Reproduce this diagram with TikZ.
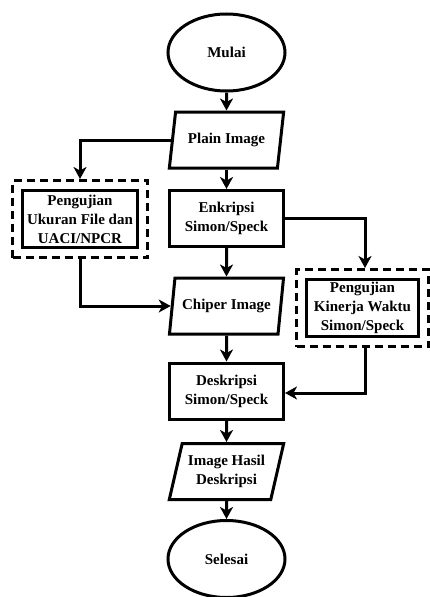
\documentclass[tikz,border=0pt]{standalone}
\usepackage{fontspec}
\setmainfont{Liberation Serif}
\usetikzlibrary{shapes.geometric,arrows.meta,fit}

\begin{document}
\begin{tikzpicture}[x=1pt,y=-1pt,line width=3pt,
  every node/.style={font=\fontsize{15}{19}\selectfont\bfseries,align=center},
  terminal/.style={draw,ellipse,minimum width=117,minimum height=77,inner sep=0pt},
  iobox/.style={draw,trapezium,trapezium left angle=71,trapezium right angle=109,trapezium stretches=true,minimum width=115,minimum height=56,inner sep=0pt},
  procbox/.style={draw,rectangle,minimum width=114,minimum height=56,inner sep=0pt},
  testframe/.style={draw,dash pattern=on 8pt off 5pt,inner sep=8.5pt},
  flow/.style={-{Stealth[length=12pt,width=13pt,inset=3.5pt]}}]
\path[use as bounding box] (0,0) rectangle (429,597);

\node[terminal] (mulai) at (226.5,52.5) {Mulai};
\node[iobox] (plain) at (226.5,140) {Plain Image};
\node[procbox] (enkripsi) at (226.5,218.5) {Enkripsi\\Simon/Speck};
\node[iobox] (chiper) at (226.5,306) {Chiper Image};
\node[procbox] (deskripsi) at (226.5,391) {Deskripsi\\Simon/Speck};
\node[iobox] (hasil) at (226.5,471.5) {Image Hasil\\Deskripsi};
\node[terminal] (selesai) at (226.5,559) {Selesai};

% kotak pengujian
\node[procbox,minimum width=115,minimum height=57] (ujifile) at (80,219) {Pengujian\\Ukuran File dan\\UACI/NPCR};
\node[testframe,fit=(ujifile)] (ujifileframe) {};
\node[procbox,minimum width=112,minimum height=57] (ujiwaktu) at (362.5,308) {Pengujian\\Kinerja Waktu\\Simon/Speck};
\node[testframe,fit=(ujiwaktu)] (ujiwaktuframe) {};

\draw[flow] (mulai) -- (plain);
\draw[flow] (plain) -- (enkripsi);
\draw[flow] (enkripsi) -- (chiper);
\draw[flow] (chiper) -- (deskripsi);
\draw[flow] (deskripsi) -- (hasil);
\draw[flow] (hasil) -- (selesai);

\draw[flow] (plain.west) -| (ujifileframe.north);
\draw[flow] (ujifileframe.south) |- (chiper.west);
\draw[flow] (enkripsi.east) -| ([xshift=2.5pt]ujiwaktuframe.north);
\draw[flow] ([xshift=2.5pt]ujiwaktuframe.south) |- ([yshift=-2pt]deskripsi.east);
\end{tikzpicture}
\end{document}
